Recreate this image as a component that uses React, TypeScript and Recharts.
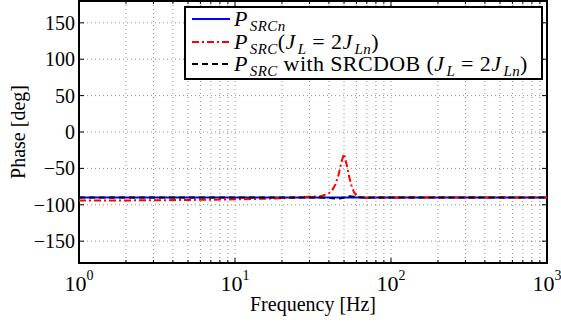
import { LineChart, Line, XAxis, YAxis, CartesianGrid, ReferenceArea, Legend } from 'recharts'

const freq = [1, 1.5, 2, 3, 4, 5, 7, 10, 15, 20, 25, 30, 35, 38, 40, 42, 44, 46, 48, 50, 52, 54, 56, 58, 60, 63, 66, 70, 80, 100, 150, 200, 300, 500, 700, 1000]
const phaseNominal = [-90, -90, -90, -90, -90, -90, -90, -90, -90, -90, -90, -90, -90, -90, -90, -90, -90, -90, -90, -90, -90, -90, -90, -90, -90, -90, -90, -90, -90, -90, -90, -90, -90, -90, -90, -90]
const phaseHeavy = [-94, -94, -94, -93.8, -93.6, -93.4, -93, -92.5, -91.8, -91, -90, -89, -88.5, -86, -84, -80, -72, -60, -42, -30, -45, -62, -75, -83, -87, -89.5, -90.5, -90.8, -90.5, -90.2, -90, -90, -90, -90, -90, -90]
const phaseDob = [-90, -90, -90, -90, -90, -90, -90, -90, -90, -90, -90, -90, -90, -90.3, -90.5, -91, -91.5, -91.5, -91, -90, -88.5, -88.3, -88.5, -89, -89.5, -89.8, -90, -90, -90, -90, -90, -90, -90, -90, -90, -90]

const xMajor = [1, 10, 100, 1000]
const xMajorLabels = ['0', '1', '2', '3']
const xMinor = [2, 3, 4, 5, 6, 7, 8, 9, 20, 30, 40, 50, 60, 70, 80, 90, 200, 300, 400, 500, 600, 700, 800, 900]
const yTicks = [-150, -100, -50, 0, 50, 100, 150]
const yTickLabels = ['−150', '−100', '−50', '0', '50', '100', '150']

const W = 561
const H = 323
const PLOT_LEFT = 79
const PLOT_RIGHT = 547
const PLOT_TOP = 1
const PLOT_BOTTOM = 263
const FONT = 'Liberation Serif, DejaVu Serif, Times New Roman, serif'

const data = freq.map((f, i) => ({
  f,
  nominal: phaseNominal[i],
  heavy: phaseHeavy[i],
  dob: phaseDob[i],
}))

const allXTicks = [...xMajor, ...xMinor].sort((a, b) => a - b)

function XTick(props: any) {
  const { x, payload } = props
  const idx = xMajor.indexOf(payload.value)
  const len = idx >= 0 ? 5 : 3
  return (
    <g>
      <line x1={x} x2={x} y1={PLOT_BOTTOM} y2={PLOT_BOTTOM - len} stroke="#000" strokeWidth={1} />
      <line x1={x} x2={x} y1={PLOT_TOP} y2={PLOT_TOP + len} stroke="#000" strokeWidth={1} />
      {idx >= 0 && (
        <text x={x} y={291} textAnchor="middle" style={{ fontFamily: FONT }} fontSize={22} fill="#000">
          10
          <tspan fontSize={14} dy={-11}>{xMajorLabels[idx]}</tspan>
        </text>
      )}
    </g>
  )
}

function YTick(props: any) {
  const { y, payload } = props
  const idx = yTicks.indexOf(payload.value)
  return (
    <g>
      <line x1={PLOT_LEFT} x2={PLOT_LEFT + 5} y1={y} y2={y} stroke="#000" strokeWidth={1} />
      <line x1={PLOT_RIGHT} x2={PLOT_RIGHT - 5} y1={y} y2={y} stroke="#000" strokeWidth={1} />
      <text x={75} y={y + 7} textAnchor="end" style={{ fontFamily: FONT }} fontSize={20} fill="#000">
        {yTickLabels[idx]}
      </text>
    </g>
  )
}

const subStyle = { fontSize: 15, fontStyle: 'italic' as const, verticalAlign: '-5px', lineHeight: 0, marginLeft: 2 }

function Sample({ color, dash }: { color: string; dash?: string }) {
  return (
    <svg width={40} height={22} style={{ display: 'block' }}>
      <line x1={2} x2={40} y1={11} y2={11} stroke={color} strokeWidth={2} strokeDasharray={dash} />
    </svg>
  )
}

function LegendBox() {
  const row = { display: 'flex', alignItems: 'center', height: 22.5, whiteSpace: 'nowrap' as const }
  return (
    <div
      style={{
        width: 359,
        height: 74,
        boxSizing: 'border-box',
        border: '2px solid #000',
        background: '#fff',
        fontFamily: FONT,
        fontSize: 22,
        letterSpacing: 0.4,
        color: '#000',
        paddingLeft: 4,
        lineHeight: '22px',
      }}
    >
      <div style={row}>
        <Sample color="#0000ff" />
        <span style={{ marginLeft: 4 }}>
          <i>P</i><span style={subStyle}>SRCn</span>
        </span>
      </div>
      <div style={row}>
        <Sample color="#ff0000" dash="7 3 2 3" />
        <span style={{ marginLeft: 4 }}>
          <i>P</i><span style={subStyle}>SRC</span>(<i>J</i><span style={subStyle}>L</span> = 2<i>J</i><span style={subStyle}>Ln</span>)
        </span>
      </div>
      <div style={row}>
        <Sample color="#000" dash="6 4" />
        <span style={{ marginLeft: 4 }}>
          <i>P</i><span style={subStyle}>SRC</span> with SRCDOB (<i>J</i><span style={subStyle}>L</span> = 2<i>J</i><span style={subStyle}>Ln</span>)
        </span>
      </div>
    </div>
  )
}

export default function App() {
  return (
    <div style={{ position: 'absolute', left: 0, top: 0, width: W, height: H, background: '#fff', fontFamily: FONT }}>
      <LineChart width={W} height={H} data={data} margin={{ top: PLOT_TOP, right: W - PLOT_RIGHT, bottom: 0, left: 0 }} style={{ fontFamily: FONT }}>
        <CartesianGrid stroke="#000" strokeOpacity={0.55} strokeWidth={0.8} strokeDasharray="1 3" />
        <XAxis
          dataKey="f"
          type="number"
          scale="log"
          domain={[1, 1000]}
          allowDataOverflow
          ticks={allXTicks}
          interval={0}
          tick={<XTick />}
          tickLine={false}
          axisLine={false}
          height={H - PLOT_BOTTOM}
          label={{ value: 'Frequency [Hz]', position: 'insideBottom', offset: 12, fontSize: 20, fill: '#000', style: { fontFamily: FONT } }}
        />
        <YAxis
          type="number"
          domain={[-180, 180]}
          allowDataOverflow
          ticks={yTicks}
          interval={0}
          tick={<YTick />}
          tickLine={false}
          axisLine={false}
          width={PLOT_LEFT}
          label={{ value: 'Phase [deg]', angle: -90, position: 'insideLeft', offset: 18, fontSize: 20, fill: '#000', style: { textAnchor: 'middle', fontFamily: FONT } }}
        />
        <Line dataKey="nominal" type="linear" stroke="#0000ff" strokeWidth={2} dot={false} activeDot={false} isAnimationActive={false} />
        <Line dataKey="heavy" type="linear" stroke="#ff0000" strokeWidth={2} strokeDasharray="7 3 2 3" dot={false} activeDot={false} isAnimationActive={false} />
        <Line dataKey="dob" type="linear" stroke="#000" strokeWidth={2} strokeDasharray="6 4" dot={false} activeDot={false} isAnimationActive={false} />
        <ReferenceArea x1={1} x2={1000} y1={-180} y2={180} fill="none" stroke="#000" strokeWidth={2} />
        <Legend
          layout="vertical"
          align="center"
          verticalAlign="middle"
          content={() => <LegendBox />}
          wrapperStyle={{ left: 184, top: 6, width: 359, height: 74 }}
        />
      </LineChart>
    </div>
  )
}
